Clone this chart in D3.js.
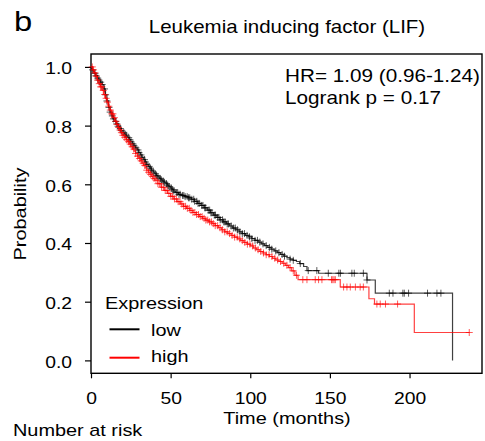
<!DOCTYPE html>
<html><head><meta charset="utf-8">
<script src="https://cdn.jsdelivr.net/npm/d3@7"></script>
<style>
body{margin:0;background:#fff}
text{font-family:"Liberation Sans",Arial,sans-serif;fill:#000}
</style>
</head><body>
<svg id="c" width="485" height="441"></svg>
<script>
// Kaplan-Meier step curves: [time (months), survival probability]
const lowCurve = [[0,1],[0.5,0.995],[1,0.99],[1.5,0.985],[2,0.978],[3,0.97],[4,0.962],[5,0.955],[6,0.948],[7,0.94],[8,0.925],[9,0.905],[10,0.884],[11,0.862],[12,0.846],[13,0.833],[14,0.823],[15,0.814],[16,0.806],[17,0.798],[18,0.79],[19,0.783],[20,0.777],[21,0.771],[22,0.765],[23,0.759],[24,0.752],[25,0.745],[26,0.738],[27,0.731],[28,0.724],[29,0.717],[30,0.708],[31,0.7],[32,0.692],[33,0.684],[34,0.676],[35,0.668],[36,0.661],[37,0.655],[38,0.648],[39,0.642],[40,0.636],[41,0.63],[42,0.625],[43,0.62],[44,0.615],[45,0.611],[46,0.607],[47,0.602],[48,0.597],[49,0.592],[50,0.587],[51,0.582],[52,0.577],[53,0.572],[55,0.566],[57,0.562],[59,0.558],[61,0.554],[63,0.549],[65,0.542],[67,0.535],[69,0.528],[71,0.52],[73,0.512],[75,0.503],[77,0.495],[79,0.487],[81,0.479],[83,0.472],[85,0.465],[87,0.458],[89,0.451],[91,0.445],[93,0.438],[95,0.432],[97,0.426],[99,0.421],[101,0.415],[103,0.409],[105,0.403],[107,0.397],[109,0.391],[111,0.385],[113,0.379],[115,0.373],[117,0.367],[119,0.361],[121,0.355],[123,0.35],[125,0.345],[127,0.341],[129,0.337],[131,0.33],[133.5,0.32],[135.6,0.306],[142.9,0.297],[173.3,0.274],[178.5,0.229],[227,0]];
const highCurve = [[0,1],[1,0.99],[2,0.98],[3,0.968],[4,0.955],[5,0.943],[6,0.932],[7,0.92],[8,0.906],[9,0.893],[10,0.88],[11,0.866],[12,0.853],[13,0.84],[14,0.827],[15,0.815],[16,0.804],[17,0.794],[18,0.785],[19,0.776],[20,0.767],[21,0.76],[22,0.752],[23,0.745],[24,0.737],[25,0.728],[26,0.72],[27,0.713],[28,0.705],[29,0.696],[30,0.688],[31,0.68],[32,0.672],[33,0.664],[34,0.656],[35,0.648],[36,0.641],[37,0.634],[38,0.627],[39,0.62],[40,0.614],[42,0.602],[44,0.59],[46,0.579],[48,0.569],[50,0.559],[52,0.55],[54,0.541],[56,0.533],[58,0.525],[60,0.518],[62,0.511],[64,0.504],[66,0.497],[68,0.49],[70,0.484],[72,0.478],[74,0.472],[76,0.466],[78,0.459],[80,0.452],[82,0.445],[84,0.438],[86,0.432],[88,0.426],[90,0.42],[92,0.414],[94,0.408],[96,0.402],[98,0.396],[100,0.39],[102,0.383],[104,0.377],[106,0.371],[108,0.366],[110,0.36],[112,0.354],[114,0.348],[116,0.342],[118,0.337],[120,0.331],[122,0.324],[124,0.316],[126,0.305],[128,0.29],[130,0.275],[156.5,0.25],[174.5,0.21],[178,0.192],[203,0.095]];
const lowEnd = 227, highEnd = 237.5;
// censoring times (months)
const lowCensor = [1,2.5,3.1,4.2,5,6.1,7,8.5,9.2,10,11.3,12,13.4,14.1,15.5,16.2,17,18.4,19,20.6,21.5,22.2,23.7,24.4,25.1,26.3,27,28.2,29.5,30.1,31.4,32,33.6,34.2,35,36.5,37.3,38,39.1,40.4,41.2,42,43.5,44.1,45.3,46,47.4,48.2,49,50.5,51.3,52,53.6,54.4,55.2,56,57.5,58.3,59.1,60.4,61.2,62,63.3,64.5,65.1,66.4,67.2,68,69.5,70.3,71.4,72,73.6,74.5,75.3,76,77.4,78.2,79.5,80.3,81.1,82.6,83.4,84.2,85.5,86.3,88,89.4,90.6,92,93.5,95,96.4,98,99.5,101,103,104.5,106,108,110,112,113.5,116,118,120,121.5,125,127,131.4,136.4,141.8,149,155.6,156.6,163.8,165.3,171,173.3,187.3,189.6,195.8,196.7,199.4,211.3,217.2,219.7];
const highCensor = [0.8,1.6,2.4,3.3,4.1,5.2,6,6.8,7.7,8.6,9.5,10.3,11.2,12.1,13,13.8,14.7,15.6,16.4,17.3,18.2,19.1,20,21.2,22.3,23.5,24.6,25.8,26.9,28,29.2,30.4,31.5,32.7,33.8,35,36.2,37.3,38.5,39.6,40.8,42,43.1,44.3,45.4,46.6,47.8,48.9,50.1,51.2,52.4,53.6,54.7,55.9,57,58.2,59.4,60.5,61.7,62.8,64,65.2,66.3,67.5,68.6,69.8,71,72.1,73.3,74.4,75.6,76.8,78,79.5,81,82.5,84,85.5,87,88.6,90.2,91.8,93.4,95,96.6,98.2,99.8,101.5,103.2,104.9,106.6,108.3,110,111.8,113.6,115.4,117.2,119,121,123,125,127,129,133,135.6,140.8,142.9,145,151,151.8,152.6,153.4,158.6,160.7,162.8,166,169,171,179.5,181.6,184.9,192.5,237.5];
const groups = ["low","high"];
const groupColors = ["#000000","#ff0000"];
const xTicks = [0,50,100,150,200];
const yTicks = [0,0.2,0.4,0.6,0.8,1.0];

const SX = 1.17; // glyphs in the reference are wider than Liberation Sans
const svg = d3.select("#c");
const x = d3.scaleLinear().domain([0,245.5]).range([91,482]);
const y = d3.scaleLinear().domain([-0.044,1.044]).range([373.3,54]);

function survAt(curve,t){let s=curve[0][1];for(const d of curve){if(d[0]<=t)s=d[1];else break;}return s;}
function txt(px,py,str,size,anchor,rot){
  return svg.append("text").attr("transform",`translate(${px},${py}) rotate(${rot||0}) scale(${SX},1)`)
    .attr("text-anchor",anchor||"start").style("font-size",size+"px").text(str);
}

// axes
const ya = svg.append("g").attr("transform","translate(91,0)")
  .call(d3.axisLeft(y).tickValues(yTicks).tickFormat(d3.format(".1f")).tickSize(6).tickPadding(13).tickSizeOuter(0));
ya.select(".domain").remove();
ya.selectAll("text").style("font-size","16.5px").attr("dy","0.42em")
  .attr("transform",function(){return `translate(${this.getAttribute("x")},0) scale(${SX},1)`;}).attr("x",0);
ya.selectAll("line").attr("stroke","#000").attr("stroke-width",1.2);
const xa = svg.append("g").attr("transform","translate(0,373.3)")
  .call(d3.axisBottom(x).tickValues(xTicks).tickSize(5).tickPadding(25.5).tickSizeOuter(0));
xa.select(".domain").remove();
xa.selectAll("text").style("font-size","16.5px").attr("dy","0")
  .attr("transform",function(){return `translate(0,${this.getAttribute("y")}) scale(${SX},1)`;}).attr("y",0);
xa.selectAll("line").attr("stroke","#000").attr("stroke-width",1.2);

// frame
svg.append("rect").attr("x",91).attr("y",54).attr("width",391).attr("height",319.3)
  .attr("fill","none").attr("stroke","#000").attr("stroke-width",1.4);

const line = d3.line().x(d=>x(d[0])).y(d=>y(d[1])).curve(d3.curveStepAfter);
const curves = [lowCurve, highCurve], censors=[lowCensor, highCensor], ends=[lowEnd, highEnd];
curves.forEach((c,i)=>{
  const pts = c.slice(); const last = c[c.length-1];
  if (ends[i] > last[0]) pts.push([ends[i], last[1]]);
  svg.append("path").attr("d",line(pts)).attr("fill","none")
    .attr("stroke",groupColors[i]).attr("stroke-width",1.2).attr("stroke-opacity",0.75);
  const g = svg.append("g").attr("stroke",groupColors[i]).attr("stroke-width",1).attr("stroke-opacity",0.65);
  censors[i].forEach(t=>{
    const cx = x(t), cy = y(survAt(c,t));
    g.append("line").attr("x1",cx-3.5).attr("x2",cx+3.5).attr("y1",cy).attr("y2",cy);
    g.append("line").attr("x1",cx).attr("x2",cx).attr("y1",cy-3.5).attr("y2",cy+3.5);
  });
});

// texts
txt(14,31,"b",28);
txt(287,33,"Leukemia inducing factor (LIF)",17.5,"middle");
txt(285,82,"HR= 1.09 (0.96-1.24)",17.7);
txt(285,103.5,"Logrank p = 0.17",17.7);
txt(26,214,"Probability",17,"middle",-90);
txt(287,424,"Time (months)",17,"middle");
txt(13,436,"Number at risk",17);

// legend
txt(105,309,"Expression",17);
const legY = [329.3, 357.7], legTY=[335.5, 362];
groups.forEach((g,i)=>{
  svg.append("line").attr("x1",109.5).attr("x2",139.5).attr("y1",legY[i]).attr("y2",legY[i])
    .attr("stroke",groupColors[i]).attr("stroke-width",2);
  txt(151,legTY[i],g,17);
});
</script>
</body></html>
